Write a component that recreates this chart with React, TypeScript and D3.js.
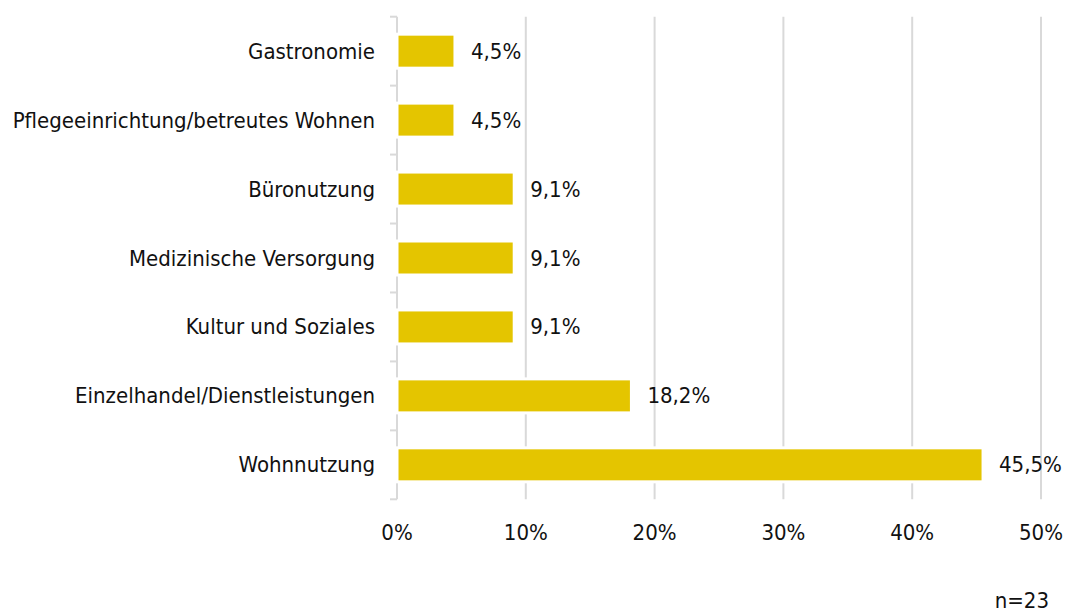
import React from "react";
import * as d3 from "d3";

const categories = [
  "Gastronomie",
  "Pflegeeinrichtung/betreutes Wohnen",
  "Büronutzung",
  "Medizinische Versorgung",
  "Kultur und Soziales",
  "Einzelhandel/Dienstleistungen",
  "Wohnnutzung",
];
const values = [4.5, 4.5, 9.1, 9.1, 9.1, 18.2, 45.5];
const xTicks = [0, 10, 20, 30, 40, 50];
const note = "n=23";

const W = 1075;
const H = 612;
const FONT = "'Liberation Sans Narrow', 'DejaVu Sans Condensed', sans-serif";

export default function App() {
  const x = d3.scaleLinear().domain([0, 50]).range([397, 1041]);
  const yb = d3.scaleBand().domain(categories).range([16.7, 499.3]);
  const fmt = (v: number) => v.toFixed(1).replace(".", ",") + "%";
  const bounds = [...categories.map((c) => yb(c)!), 499.3];
  return (
    <svg width={W} height={H} style={{ position: "absolute", left: 0, top: 0, background: "#fff" }}>
      <g>
        {xTicks.slice(1).map((t) => (
          <line key={t} x1={x(t)} x2={x(t)} y1={16.7} y2={499.3} stroke="#d9d9d9" strokeWidth={2} />
        ))}
        <line x1={x(0)} x2={x(0)} y1={16.7} y2={499.3} stroke="#d9d9d9" strokeWidth={2} />
        {bounds.map((b, i) => (
          <line key={i} x1={x(0) - 7} x2={x(0)} y1={b} y2={b} stroke="#d9d9d9" strokeWidth={2} />
        ))}
      </g>
      {categories.map((c, i) => {
        const yy = yb(c)! + yb.bandwidth() / 2;
        return (
          <g key={c}>
            <rect
              x={x(0)}
              y={yy - 17}
              width={x(values[i]) - x(0)}
              height={34}
              fill="#E4C500"
              stroke="#fff"
              strokeWidth={3}
            />
            <text x={375} y={yy} textAnchor="end" dominantBaseline="central" fontFamily={FONT} fontSize={22} fill="#111">
              {c}
            </text>
            <text x={x(values[i]) + 16} y={yy} dominantBaseline="central" fontFamily={FONT} fontSize={22} fill="#111">
              {fmt(values[i])}
            </text>
          </g>
        );
      })}
      {xTicks.map((t) => (
        <text key={t} x={x(t)} y={532} textAnchor="middle" dominantBaseline="central" fontFamily={FONT} fontSize={22} fill="#111">
          {t + "%"}
        </text>
      ))}
      <text x={1049} y={600} textAnchor="end" dominantBaseline="central" fontFamily={FONT} fontSize={22} fill="#111">
        {note}
      </text>
    </svg>
  );
}
